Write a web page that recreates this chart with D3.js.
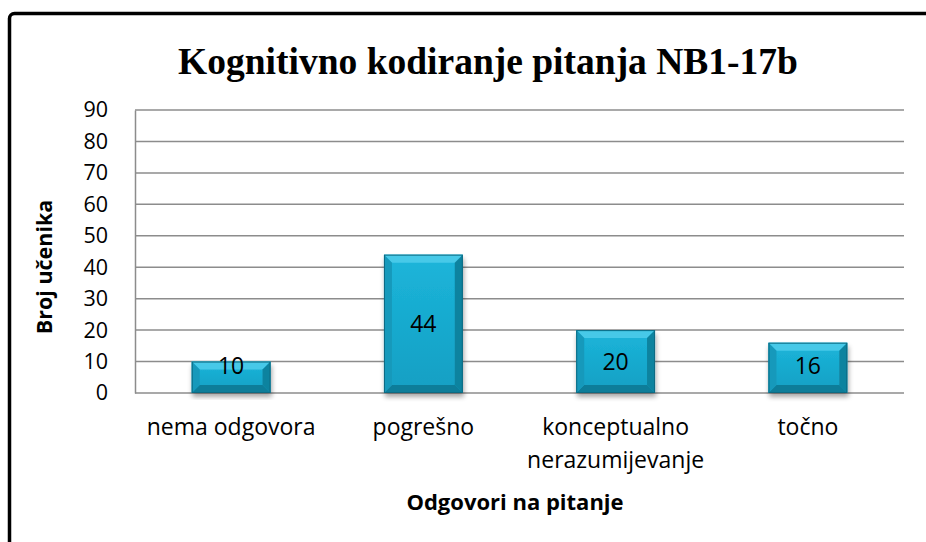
<!DOCTYPE html>
<html>
<head>
<meta charset="utf-8">
<script src="https://cdn.jsdelivr.net/npm/d3@7"></script>
<style>
  html, body { margin: 0; padding: 0; background: #fff; }
  #chart { width: 926px; height: 542px; }
</style>
</head>
<body>
<div id="chart"></div>
<script>
// data
const categories = ["nema odgovora", "pogrešno", "konceptualno\nnerazumijevanje", "točno"];
const values = [10, 44, 20, 16];
const yTicks = [0, 10, 20, 30, 40, 50, 60, 70, 80, 90];
const titleText = "Kognitivno kodiranje pitanja NB1-17b";
const yTitle = "Broj učenika";
const xTitle = "Odgovori na pitanje";

const width = 926, height = 542;
const plot = { left: 135, right: 904, top: 110, bottom: 393 };
const labelFont = "'Open Sans', 'Noto Sans', sans-serif";

const svg = d3.select("#chart").append("svg")
  .attr("width", width)
  .attr("height", height);

const defs = svg.append("defs");
const shadow = defs.append("filter").attr("id", "shadow")
  .attr("x", "-20%").attr("y", "-20%").attr("width", "140%").attr("height", "140%");
shadow.append("feGaussianBlur").attr("in", "SourceAlpha").attr("stdDeviation", 2.5);
shadow.append("feOffset").attr("dx", 1).attr("dy", 4).attr("result", "off");
shadow.append("feComponentTransfer").append("feFuncA").attr("type", "linear").attr("slope", 0.35);
const merge = shadow.append("feMerge");
merge.append("feMergeNode");
merge.append("feMergeNode").attr("in", "SourceGraphic");

const face = defs.append("linearGradient").attr("id", "face")
  .attr("x1", 0).attr("y1", 0).attr("x2", 0).attr("y2", 1);
face.append("stop").attr("offset", "0%").attr("stop-color", "#1cb5da");
face.append("stop").attr("offset", "100%").attr("stop-color", "#139fc3");

// outer frame (cut off on right and bottom)
svg.append("rect")
  .attr("x", 9.5).attr("y", 13.5)
  .attr("width", width + 20).attr("height", height + 20)
  .attr("rx", 5)
  .attr("fill", "#fff")
  .attr("stroke", "#000")
  .attr("stroke-width", 3.5);

// scales
const x = d3.scaleBand()
  .domain(categories)
  .range([plot.left, plot.right])
  .paddingInner(0.59)
  .paddingOuter(0.295);

const y = d3.scaleLinear()
  .domain([0, 90])
  .range([plot.bottom, plot.top]);

// gridlines
svg.append("g")
  .selectAll("line")
  .data(yTicks)
  .join("line")
  .attr("x1", plot.left).attr("x2", plot.right)
  .attr("y1", d => y(d)).attr("y2", d => y(d))
  .attr("stroke", "#8c8c8c")
  .attr("stroke-width", 1.5);

// y axis
const yAxis = svg.append("g")
  .attr("transform", `translate(${plot.left},0)`)
  .call(d3.axisLeft(y).tickValues(yTicks).tickSize(0).tickPadding(27));
yAxis.select(".domain").attr("stroke", "#8c8c8c").attr("stroke-width", 1.5);
yAxis.selectAll("text")
  .attr("font-family", labelFont)
  .attr("font-size", 21.5)
  .attr("fill", "#000");

// bars
const bev = 8;
const bars = svg.append("g").selectAll("g")
  .data(values)
  .join("g")
  .attr("filter", "url(#shadow)");

bars.each(function(d, i) {
  const g = d3.select(this);
  const x0 = x(categories[i]), x1 = x0 + x.bandwidth();
  const y0 = y(d), y1 = y(0);
  const b = Math.min(bev, (y1 - y0) / 2);
  g.append("rect")
    .attr("x", x0).attr("y", y0)
    .attr("width", x1 - x0).attr("height", y1 - y0)
    .attr("fill", "url(#face)");
  // top bevel
  g.append("path")
    .attr("d", `M${x0},${y0}L${x1},${y0}L${x1 - b},${y0 + b}L${x0 + b},${y0 + b}Z`)
    .attr("fill", "#46c9e8");
  // bottom bevel
  g.append("path")
    .attr("d", `M${x0},${y1}L${x1},${y1}L${x1 - b},${y1 - b}L${x0 + b},${y1 - b}Z`)
    .attr("fill", "#0f7d99");
  // left bevel
  g.append("path")
    .attr("d", `M${x0},${y0}L${x0 + b},${y0 + b}L${x0 + b},${y1 - b}L${x0},${y1}Z`)
    .attr("fill", "#1699bb");
  // right bevel
  g.append("path")
    .attr("d", `M${x1},${y0}L${x1 - b},${y0 + b}L${x1 - b},${y1 - b}L${x1},${y1}Z`)
    .attr("fill", "#11839f");
  g.append("rect")
    .attr("x", x0 + 0.5).attr("y", y0 + 0.5)
    .attr("width", x1 - x0 - 1).attr("height", y1 - y0 - 1)
    .attr("fill", "none")
    .attr("stroke", "#0c6a82")
    .attr("stroke-width", 1);
});

// data labels
svg.append("g").selectAll("text")
  .data(values)
  .join("text")
  .attr("x", (d, i) => x(categories[i]) + x.bandwidth() / 2)
  .attr("y", d => Math.min((y(d) + y(0)) / 2, y(0) - 27))
  .attr("dy", "0.36em")
  .attr("text-anchor", "middle")
  .attr("font-family", labelFont)
  .attr("font-size", 23)
  .attr("fill", "#000")
  .text(d => d);

// category labels
svg.append("g").selectAll("text")
  .data(categories)
  .join("text")
  .attr("x", d => x(d) + x.bandwidth() / 2)
  .attr("y", 435)
  .attr("text-anchor", "middle")
  .attr("font-family", labelFont)
  .attr("font-size", 23)
  .attr("fill", "#000")
  .each(function(d) {
    d3.select(this).selectAll("tspan")
      .data(d.split("\n"))
      .join("tspan")
      .attr("x", d3.select(this).attr("x"))
      .attr("dy", (t, j) => j === 0 ? 0 : 33)
      .text(t => t);
  });

// title
svg.append("text")
  .attr("x", 488)
  .attr("y", 74)
  .attr("text-anchor", "middle")
  .attr("font-family", "'Liberation Serif', 'Times New Roman', serif")
  .attr("font-weight", "bold")
  .attr("font-size", 37.5)
  .attr("fill", "#000")
  .text(titleText);

// axis titles
svg.append("text")
  .attr("transform", `translate(52,267) rotate(-90)`)
  .attr("text-anchor", "middle")
  .attr("font-family", labelFont)
  .attr("font-weight", "bold")
  .attr("font-size", 21.5)
  .attr("fill", "#000")
  .text(yTitle);

svg.append("text")
  .attr("x", 515)
  .attr("y", 510)
  .attr("text-anchor", "middle")
  .attr("font-family", labelFont)
  .attr("font-weight", "bold")
  .attr("font-size", 22)
  .attr("fill", "#000")
  .text(xTitle);
</script>
</body>
</html>
